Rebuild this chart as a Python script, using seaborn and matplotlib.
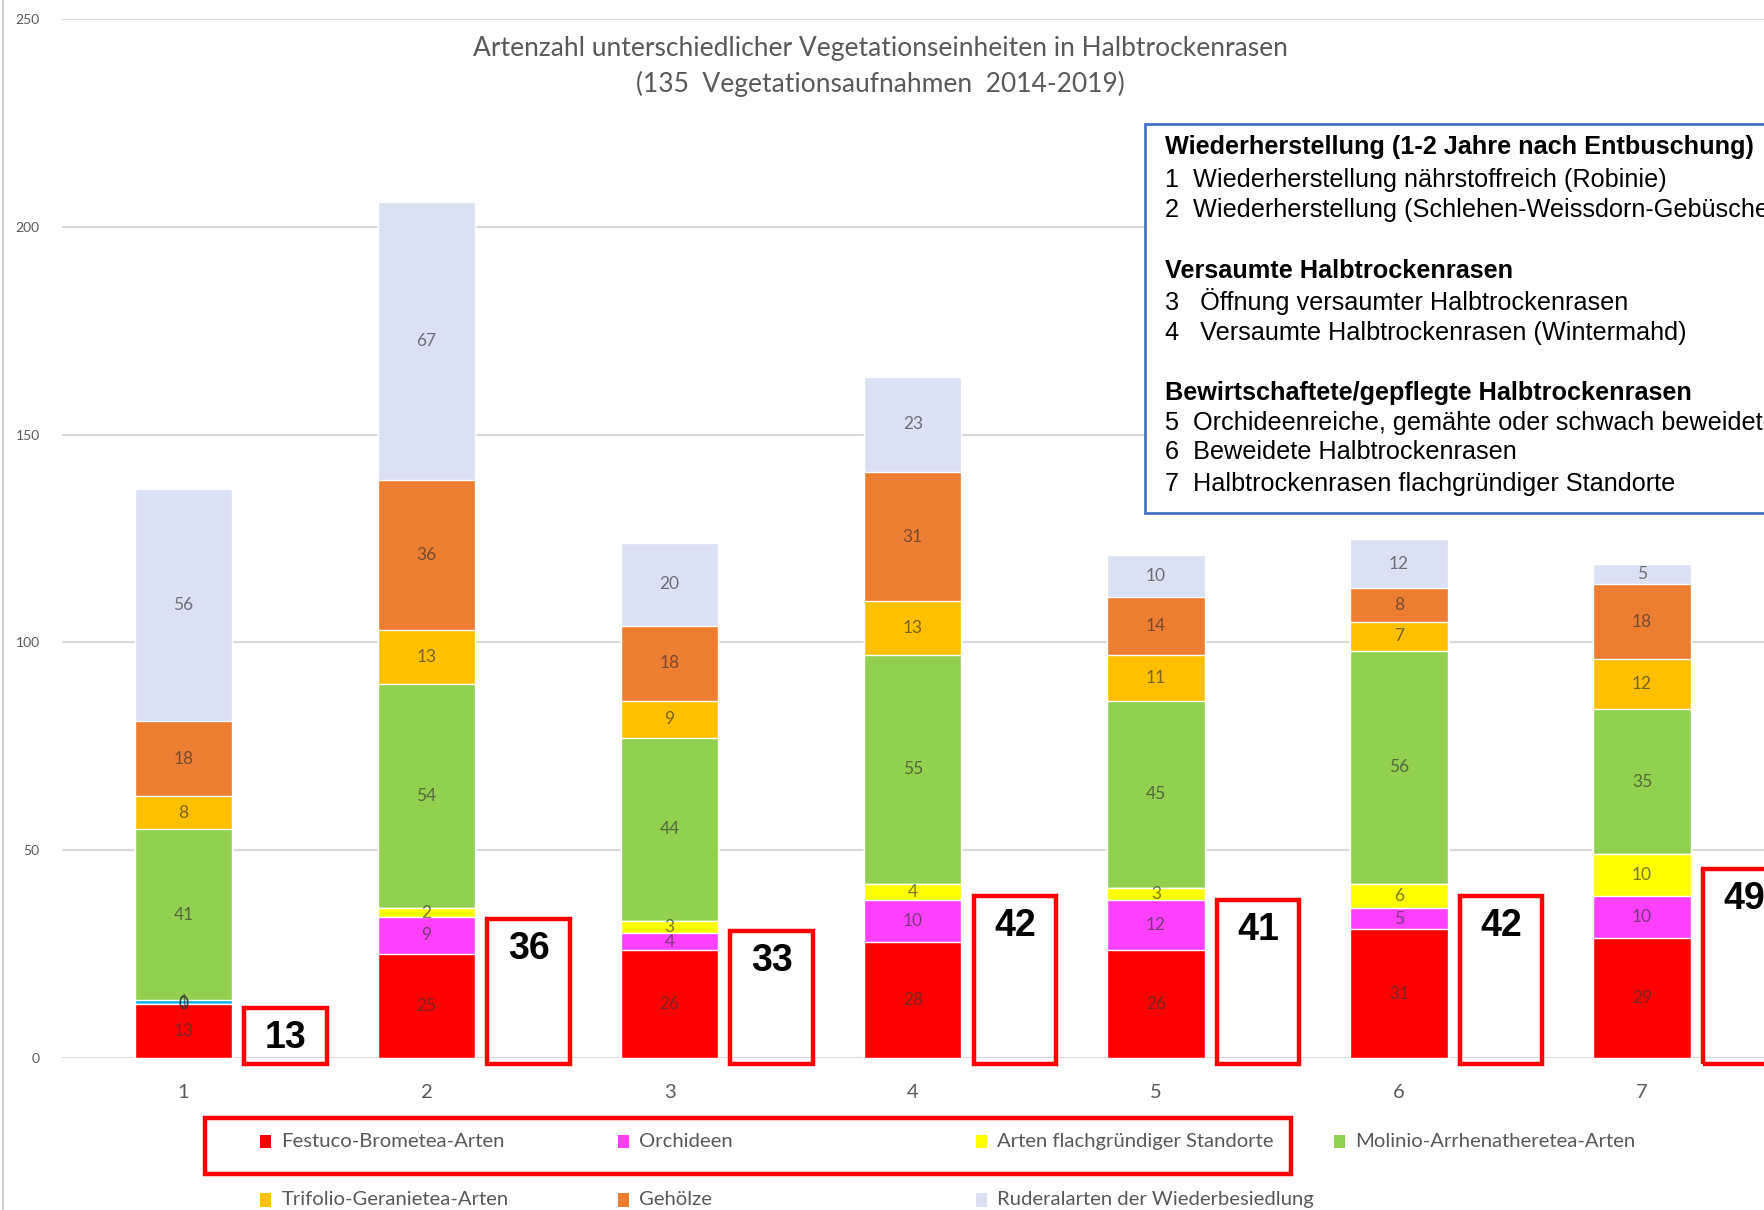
import numpy as np
import pandas as pd
import matplotlib
matplotlib.use("Agg")
import matplotlib.pyplot as plt
from matplotlib.patches import Rectangle
import seaborn as sns

# Vegetationseinheiten 1-7
units = ["1", "2", "3", "4", "5", "6", "7"]

festuco = [13, 25, 26, 28, 26, 31, 29]
orchideen = [0, 9, 4, 10, 12, 5, 10]
flach = [0, 2, 3, 4, 3, 6, 10]
extra = [1, 0, 0, 0, 0, 0, 0]      # thin blue segment in bar 1, not in legend
molinio = [41, 54, 44, 55, 45, 56, 35]
trifolio = [8, 13, 9, 13, 11, 7, 12]
gehoelze = [18, 36, 18, 31, 14, 8, 18]
ruderal = [56, 67, 20, 23, 10, 12, 5]

series = ["Festuco-Brometea-Arten", "Orchideen", "Arten flachgründiger Standorte", "extra",
          "Molinio-Arrhenatheretea-Arten", "Trifolio-Geranietea-Arten", "Gehölze",
          "Ruderalarten der Wiederbesiedlung"]
values = [festuco, orchideen, flach, extra, molinio, trifolio, gehoelze, ruderal]
colors = ["#FF0000", "#FF40FF", "#FFFF00", "#00B0F0", "#92D050", "#FFC000", "#ED7D31", "#D9E1F2"]

# totals in the red boxes = Festuco + Orchideen + flachgründig
box_totals = [a + b + c for a, b, c in zip(festuco, orchideen, flach)]

legend_rows = [["Festuco-Brometea-Arten", "Orchideen", "Arten flachgründiger Standorte",
                "Molinio-Arrhenatheretea-Arten"],
               ["Trifolio-Geranietea-Arten", "Gehölze", "Ruderalarten der Wiederbesiedlung"]]

info_lines = [("Wiederherstellung (1-2 Jahre nach Entbuschung)", True),
              ("1  Wiederherstellung nährstoffreich (Robinie)", False),
              ("2  Wiederherstellung (Schlehen-Weissdorn-Gebüsche)", False),
              ("", False),
              ("Versaumte Halbtrockenrasen", True),
              ("3   Öffnung versaumter Halbtrockenrasen", False),
              ("4   Versaumte Halbtrockenrasen (Wintermahd)", False),
              ("", False),
              ("Bewirtschaftete/gepflegte Halbtrockenrasen", True),
              ("5  Orchideenreiche, gemähte oder schwach beweidete Halbtrockenrasen", False),
              ("6  Beweidete Halbtrockenrasen", False),
              ("7  Halbtrockenrasen flachgründiger Standorte", False)]

sns.set_theme(style="whitegrid")
plt.rcParams["font.family"] = ["Lato", "DejaVu Sans"]

W, H = 1568, 1075  # reference pixel grid used for placing things
def fx(x):
    return x / W
def fy(y):
    return 1 - y / H

fig = plt.figure(figsize=(17.65, 12.10), dpi=100)
ax = fig.add_axes([fx(55), fy(940), fx(1568) - fx(55) + 0.002, fy(17) - fy(940)])

df = pd.DataFrame(dict(zip(series, values)), index=units)
cum = df.cumsum(axis=1)

# draw stacked bars from top down so each cumulative bar is covered by the next lower one
for name, col in reversed(list(zip(series, colors))):
    sns.barplot(x=units, y=cum[name].values, color=col, saturation=1, width=0.4,
                ax=ax, zorder=2)

# segment labels
for i, u in enumerate(units):
    for name in series:
        v = df.loc[u, name]
        if name == "extra":
            continue
        mid = cum.loc[u, name] - v / 2
        ax.text(i, mid, f"{v}", ha="center", va="center", fontsize=12.5,
                color="#333333", alpha=0.65, zorder=4)
# label of the thin segment in bar 1
ax.text(0, cum.loc["1", "extra"] - 0.5, "1", ha="center", va="center", fontsize=12.5,
        color="#333333", alpha=0.65, zorder=4)

# red boxes with totals
for i, t in enumerate(box_totals):
    top = t * 0.93
    ax.add_patch(Rectangle((i + 0.42 - 0.17, -1.4), 0.34, top + 1.4, fill=False,
                           edgecolor="#FF0000", lw=3.2, zorder=5, clip_on=False))
    ax.text(i + 0.42, top - 7.3, f"{t}", ha="center", va="center", fontsize=27,
            fontweight="bold", family="Liberation Sans", color="black", zorder=6,
            clip_on=False)

ax.set_xlim(-0.5, 6.52)
ax.set_ylim(0, 250)
ax.set_yticks(range(0, 251, 50))
ax.grid(axis="y", color="#D9D9D9", lw=1.5)
ax.grid(axis="x", visible=False)
for s in ax.spines.values():
    s.set_visible(False)
ax.set_xlabel("")
ax.set_ylabel("")
ax.tick_params(axis="y", labelsize=10, labelcolor="#595959", pad=16, length=0)
ax.tick_params(axis="x", labelsize=14.5, labelcolor="#595959", pad=19, length=0)
ax.set_axisbelow(True)

# title
fig.text(fx(782), fy(43), "Artenzahl unterschiedlicher Vegetationseinheiten in Halbtrockenrasen",
         ha="center", va="center", fontsize=19, color="#595959")
fig.text(fx(782), fy(75), "(135  Vegetationsaufnahmen  2014-2019)",
         ha="center", va="center", fontsize=19, color="#595959")

# info box
fig.patches.append(Rectangle((fx(1017), fy(456)), 0.5, fy(110) - fy(456), facecolor="white",
                             edgecolor="#4472C4", lw=2, transform=fig.transFigure,
                             figure=fig, zorder=3))
ys = [131, 160, 187, 214, 241, 268, 296, 322, 349, 376, 402, 430]
for (txt, bold), y in zip(info_lines, ys):
    if txt:
        fig.text(fx(1035), fy(y), txt, ha="left", va="center", fontsize=18.2,
                 family="Liberation Sans", fontweight="bold" if bold else "normal",
                 color="black", zorder=4)

# legend (manual grid, row-wise like the original)
color_of = dict(zip(series, colors))
for r, row in enumerate(legend_rows):
    for c, name in enumerate(row):
        x0 = 236 + 318 * c
        y0 = 1014 + 52 * r
        fig.patches.append(Rectangle((fx(x0 - 5), fy(y0 + 6)), fx(10), fy(0) - fy(12),
                                     facecolor=color_of[name], edgecolor="none",
                                     transform=fig.transFigure, figure=fig))
        fig.text(fx(x0 + 14), fy(y0), name, ha="left", va="center", fontsize=14.6,
                 color="#595959")

fig.patches.append(Rectangle((fx(182), fy(1043)), fx(1147) - fx(182), fy(993) - fy(1043),
                             fill=False, edgecolor="#FF0000", lw=3.2,
                             transform=fig.transFigure, figure=fig))

# thin frame line at the left edge of the screenshot
fig.add_artist(plt.Line2D([fx(3), fx(3)], [0, 1], color="#D0D0D0", lw=1.5,
                          transform=fig.transFigure))

fig.savefig("out.png", dpi=100)
